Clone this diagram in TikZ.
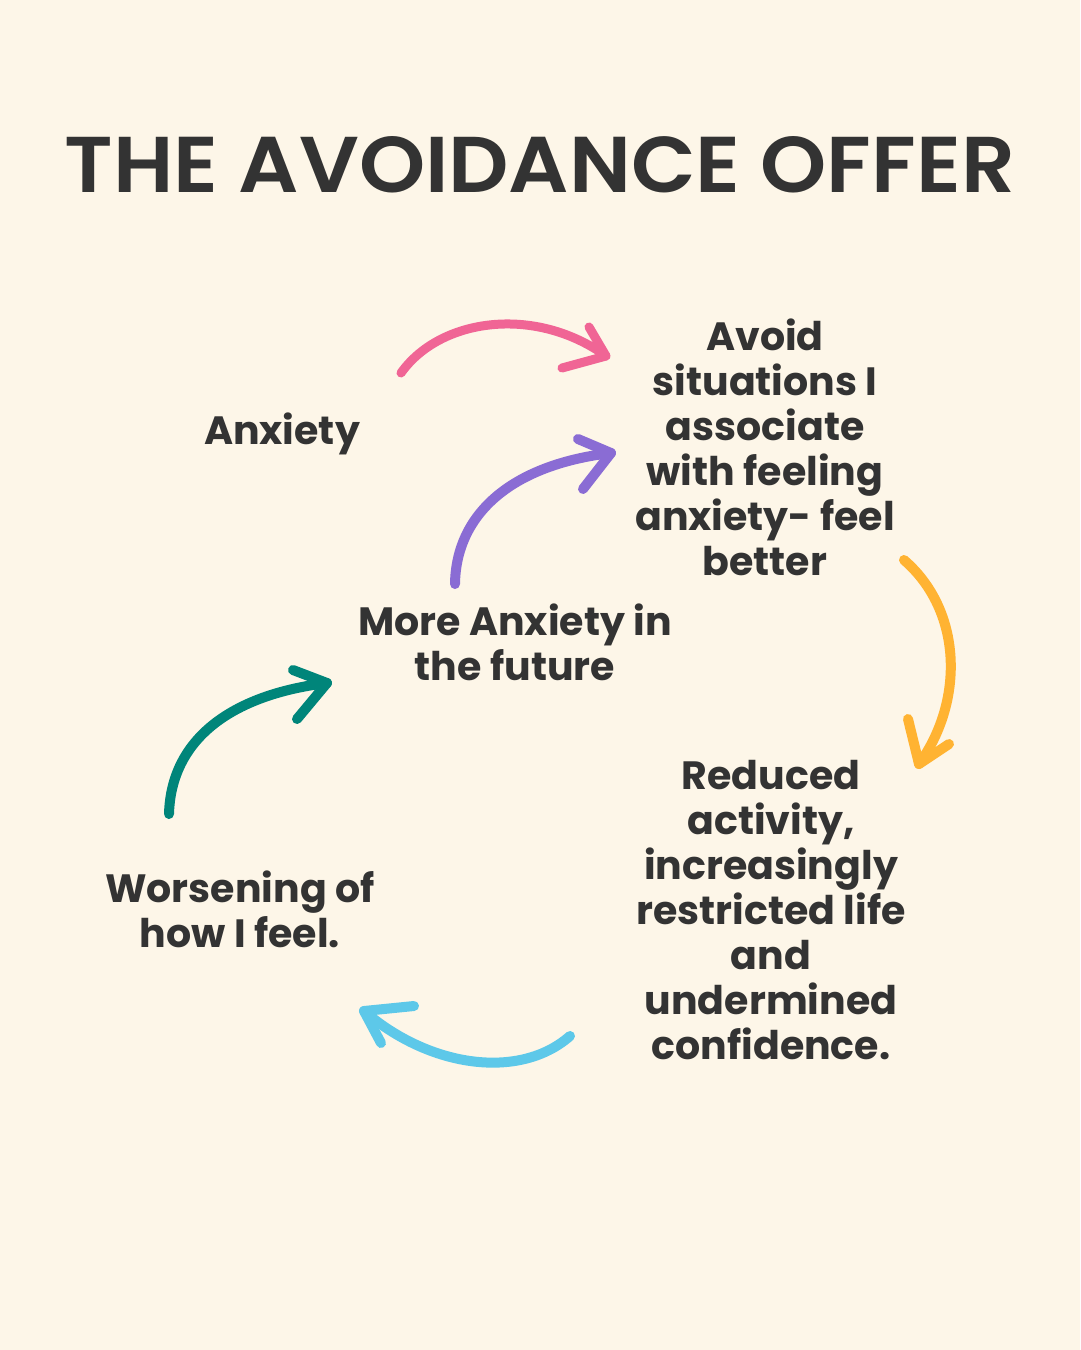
\documentclass[tikz,border=0pt]{standalone}
\usepackage{fontspec}
\setmainfont{Poppins}
\newfontfamily\titlefont{Poppins SemiBold}
\definecolor{bg}{HTML}{FDF6E8}
\definecolor{ink}{HTML}{333333}
\definecolor{cpink}{HTML}{F06595}
\definecolor{cpurple}{HTML}{8A6CD4}
\definecolor{corange}{HTML}{FFB332}
\definecolor{cblue}{HTML}{5DC8E9}
\definecolor{cteal}{HTML}{00857A}
\tikzset{
  lbl/.style={align=center, text=ink, font=\fontsize{39.5}{45}\selectfont\bfseries, inner sep=0pt},
  brush/.style={line width=10pt, line cap=round, line join=round},
}
\begin{document}
\begin{tikzpicture}[x=1pt,y=-1pt]
\fill[bg] (0,0) rectangle (1080,1350);
\useasboundingbox (0,0) rectangle (1080,1350);
\node[text=ink, inner sep=0pt, anchor=south] (title) at (540,193)
  {\resizebox{950pt}{56pt}{\titlefont THE AVOIDANCE OFFER}};

\node[lbl] (anx) at (282,434) {Anxiety};
\node[lbl] (avoid) at (765,447) {Avoid\\situations I\\associate\\with feeling\\anxiety- feel\\better};
\node[lbl] (more) at (515,642) {More Anxiety in\\the future};
\node[lbl] (reduced) at (771,910) {Reduced\\activity,\\increasingly\\restricted life\\and\\undermined\\confidence.};
\node[lbl] (worse) at (240,909) {Worsening of\\how I feel.};

% pink
\coordinate (p0) at (401,373);
\coordinate (p1) at (606,356);
\draw[brush, cpink, line width=9pt] (p0) .. controls (440,318) and (535,305) .. (p1);
\draw[brush, cpink, line width=9pt] (589,327) -- (p1) -- (562,368);
% purple
\coordinate (u0) at (455,584);
\coordinate (u1) at (611,453);
\draw[brush, cpurple] (u0) .. controls (456,515) and (510,465) .. (u1);
\draw[brush, cpurple] (578,439) -- (u1) -- (583,489);
% orange
\coordinate (o0) at (904,560);
\coordinate (o1) at (919,764);
\draw[brush, corange] (o0) .. controls (962,610) and (965,700) .. (o1);
\draw[brush, corange] (908,719) -- (o1) -- (949,744);
% blue
\coordinate (b0) at (570,1036);
\coordinate (b1) at (364,1011);
\draw[brush, cblue] (b0) .. controls (520,1080) and (430,1068) .. (b1);
\draw[brush, cblue] (414,1006) -- (b1) -- (381,1043);
% teal
\coordinate (t0) at (169,814);
\coordinate (t1) at (327,683);
\draw[brush, cteal] (t0) .. controls (171,740) and (230,695) .. (t1);
\draw[brush, cteal] (293,670) -- (t1) -- (297,719);
\end{tikzpicture}
\end{document}
